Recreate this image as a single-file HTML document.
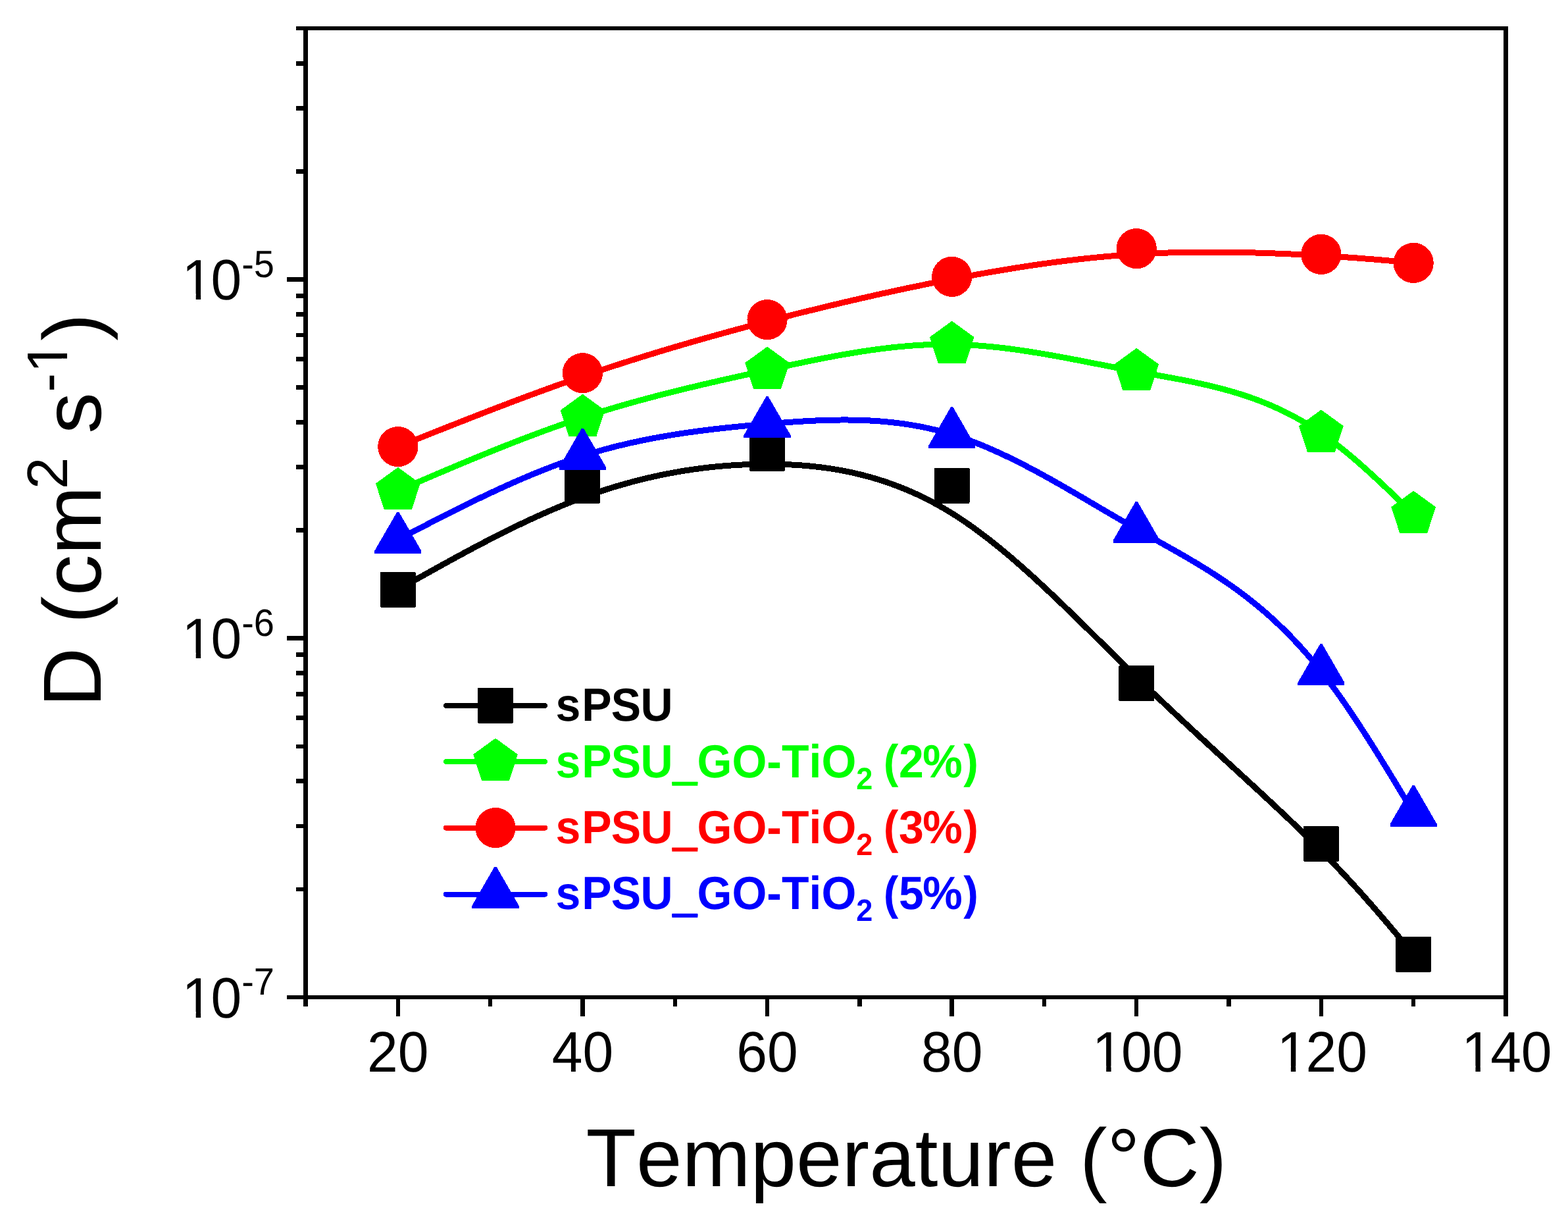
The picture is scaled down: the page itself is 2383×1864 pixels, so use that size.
<!DOCTYPE html>
<html lang="en"><head><meta charset="utf-8"><title>D vs Temperature</title>
<style>html,body{margin:0;padding:0;background:#fff}svg{display:block}text{font-family:'Liberation Sans', Arial, Helvetica, sans-serif;font-kerning:none;font-variant-ligatures:none;text-rendering:geometricPrecision;}</style>
</head><body>
<svg width="2383" height="1864" viewBox="0 0 2383 1864" role="img" aria-label="Diffusion coefficient D versus temperature">
<rect x="0" y="0" width="2383" height="1864" fill="#fff"/>
<g fill="none" stroke-width="9" stroke-linecap="round" stroke-linejoin="round" shape-rendering="crispEdges">
<path d="M604.81 895.8 L611.82 891.85 L618.84 887.9 L625.85 883.96 L632.87 880.02 L639.88 876.09 L646.9 872.16 L653.92 868.25 L660.93 864.35 L667.95 860.46 L674.96 856.58 L681.98 852.73 L688.99 848.89 L696.01 845.07 L703.02 841.28 L710.04 837.51 L717.05 833.76 L724.07 830.04 L731.08 826.35 L738.1 822.7 L745.12 819.07 L752.13 815.48 L759.15 811.92 L766.16 808.4 L773.18 804.92 L780.19 801.48 L787.21 798.08 L794.22 794.73 L801.24 791.43 L808.25 788.17 L815.27 784.96 L822.28 781.8 L829.3 778.69 L836.32 775.64 L843.33 772.65 L850.35 769.71 L857.36 766.83 L864.38 764.01 L871.39 761.26 L878.41 758.57 L885.42 755.95 L892.44 753.4 L899.45 750.91 L906.47 748.49 L913.48 746.14 L920.5 743.85 L927.52 741.64 L934.53 739.49 L941.55 737.4 L948.56 735.39 L955.58 733.44 L962.59 731.55 L969.61 729.74 L976.62 727.99 L983.64 726.3 L990.65 724.68 L997.67 723.13 L1004.68 721.64 L1011.7 720.22 L1018.72 718.86 L1025.73 717.57 L1032.75 716.34 L1039.76 715.17 L1046.78 714.08 L1053.79 713.04 L1060.81 712.07 L1067.82 711.16 L1074.84 710.32 L1081.85 709.54 L1088.87 708.82 L1095.88 708.17 L1102.9 707.58 L1109.92 707.05 L1116.93 706.59 L1123.95 706.19 L1130.96 705.85 L1137.98 705.57 L1144.99 705.36 L1152.01 705.2 L1159.02 705.11 L1166.04 705.08 L1173.05 705.12 L1180.07 705.21 L1187.08 705.37 L1194.1 705.61 L1201.12 705.91 L1208.13 706.28 L1215.15 706.73 L1222.16 707.26 L1229.18 707.87 L1236.19 708.57 L1243.21 709.34 L1250.22 710.21 L1257.24 711.16 L1264.25 712.21 L1271.27 713.36 L1278.28 714.6 L1285.3 715.93 L1292.32 717.38 L1299.33 718.92 L1306.35 720.58 L1313.36 722.34 L1320.38 724.21 L1327.39 726.2 L1334.41 728.3 L1341.42 730.52 L1348.44 732.87 L1355.45 735.33 L1362.47 737.93 L1369.48 740.65 L1376.5 743.5 L1383.52 746.48 L1390.53 749.6 L1397.55 752.86 L1404.56 756.26 L1411.58 759.8 L1418.59 763.48 L1425.61 767.31 L1432.62 771.29 L1439.64 775.43 L1446.65 779.72 L1453.67 784.16 L1460.68 788.76 L1467.7 793.5 L1474.72 798.38 L1481.73 803.41 L1488.75 808.56 L1495.76 813.85 L1502.78 819.26 L1509.79 824.78 L1516.81 830.42 L1523.82 836.17 L1530.84 842.02 L1537.85 847.97 L1544.87 854.02 L1551.88 860.15 L1558.9 866.37 L1565.92 872.67 L1572.93 879.05 L1579.95 885.49 L1586.96 892 L1593.98 898.58 L1600.99 905.2 L1608.01 911.88 L1615.02 918.61 L1622.04 925.38 L1629.05 932.18 L1636.07 939.02 L1643.08 945.88 L1650.1 952.77 L1657.12 959.67 L1664.13 966.59 L1671.15 973.51 L1678.16 980.44 L1685.18 987.36 L1692.19 994.28 L1699.21 1001.19 L1706.22 1008.08 L1713.24 1014.96 L1720.25 1021.8 L1727.27 1028.62 L1734.28 1035.4 L1741.3 1042.14 L1748.31 1048.85 L1755.31 1055.53 L1762.3 1062.16 L1769.28 1068.76 L1776.25 1075.33 L1783.21 1081.85 L1790.14 1088.34 L1797.06 1094.79 L1803.95 1101.21 L1810.82 1107.58 L1817.67 1113.92 L1824.48 1120.21 L1831.27 1126.47 L1838.02 1132.69 L1844.74 1138.86 L1851.42 1145 L1858.06 1151.1 L1864.65 1157.15 L1871.21 1163.16 L1877.72 1169.14 L1884.18 1175.07 L1890.59 1180.95 L1896.94 1186.8 L1903.25 1192.6 L1909.49 1198.36 L1915.68 1204.08 L1921.8 1209.75 L1927.87 1215.38 L1933.86 1220.97 L1939.79 1226.51 L1945.65 1232 L1951.43 1237.45 L1957.14 1242.85 L1962.78 1248.21 L1968.33 1253.53 L1973.8 1258.79 L1979.19 1264.01 L1984.5 1269.18 L1989.72 1274.31 L1994.85 1279.39 L1999.9 1284.42 L2004.87 1289.41 L2009.76 1294.36 L2014.57 1299.27 L2019.31 1304.13 L2023.97 1308.96 L2028.57 1313.75 L2033.1 1318.5 L2037.56 1323.22 L2041.96 1327.9 L2046.29 1332.55 L2050.57 1337.17 L2054.79 1341.76 L2058.96 1346.31 L2063.07 1350.84 L2067.13 1355.35 L2071.15 1359.82 L2075.12 1364.27 L2079.04 1368.7 L2082.92 1373.11 L2086.77 1377.49 L2090.57 1381.85 L2094.34 1386.2 L2098.08 1390.52 L2101.79 1394.83 L2105.47 1399.13 L2109.12 1403.41 L2112.75 1407.68 L2116.36 1411.93 L2119.94 1416.18 L2123.51 1420.41 L2127.07 1424.64 L2130.61 1428.86 L2134.14 1433.08 L2137.66 1437.29 L2141.17 1441.49 L2144.68 1445.7 L2148.19 1449.9" stroke="#000"/>
<g stroke="none"><rect x="577.81" y="868.8" width="54" height="54" rx="2" fill="#000"/><rect x="858.42" y="710.8" width="54" height="54" rx="2" fill="#000"/><rect x="1139.04" y="661.7" width="54" height="54" rx="2" fill="#000"/><rect x="1419.65" y="710.9" width="54" height="54" rx="2" fill="#000"/><rect x="1700.27" y="1011" width="54" height="54" rx="2" fill="#000"/><rect x="1980.88" y="1254.8" width="54" height="54" rx="2" fill="#000"/><rect x="2121.19" y="1422.9" width="54" height="54" rx="2" fill="#000"/></g>
<path d="M604.81 745.5 L611.82 742.48 L618.84 739.46 L625.85 736.44 L632.87 733.43 L639.88 730.41 L646.9 727.41 L653.92 724.41 L660.93 721.41 L667.95 718.42 L674.96 715.44 L681.98 712.47 L688.99 709.51 L696.01 706.56 L703.02 703.62 L710.04 700.69 L717.05 697.78 L724.07 694.88 L731.08 692 L738.1 689.14 L745.12 686.29 L752.13 683.46 L759.15 680.64 L766.16 677.85 L773.18 675.08 L780.19 672.33 L787.21 669.6 L794.22 666.9 L801.24 664.22 L808.25 661.57 L815.27 658.94 L822.28 656.34 L829.3 653.76 L836.32 651.22 L843.33 648.71 L850.35 646.22 L857.36 643.77 L864.38 641.35 L871.39 638.97 L878.41 636.62 L885.42 634.3 L892.44 632.02 L899.45 629.77 L906.47 627.56 L913.48 625.39 L920.5 623.24 L927.52 621.13 L934.53 619.05 L941.55 617 L948.56 614.98 L955.58 612.98 L962.59 611.02 L969.61 609.08 L976.62 607.17 L983.64 605.28 L990.65 603.41 L997.67 601.57 L1004.68 599.76 L1011.7 597.96 L1018.72 596.18 L1025.73 594.43 L1032.75 592.69 L1039.76 590.97 L1046.78 589.27 L1053.79 587.59 L1060.81 585.92 L1067.82 584.27 L1074.84 582.63 L1081.85 581 L1088.87 579.39 L1095.88 577.78 L1102.9 576.19 L1109.92 574.61 L1116.93 573.04 L1123.95 571.47 L1130.96 569.91 L1137.98 568.36 L1144.99 566.81 L1152.01 565.27 L1159.02 563.74 L1166.04 562.2 L1173.05 560.67 L1180.07 559.14 L1187.08 557.62 L1194.1 556.1 L1201.12 554.6 L1208.13 553.1 L1215.15 551.62 L1222.16 550.16 L1229.18 548.72 L1236.19 547.29 L1243.21 545.88 L1250.22 544.5 L1257.24 543.15 L1264.25 541.82 L1271.27 540.52 L1278.28 539.25 L1285.3 538.01 L1292.32 536.81 L1299.33 535.65 L1306.35 534.52 L1313.36 533.44 L1320.38 532.4 L1327.39 531.4 L1334.41 530.46 L1341.42 529.55 L1348.44 528.7 L1355.45 527.91 L1362.47 527.16 L1369.48 526.48 L1376.5 525.85 L1383.52 525.28 L1390.53 524.77 L1397.55 524.33 L1404.56 523.96 L1411.58 523.65 L1418.59 523.41 L1425.61 523.25 L1432.62 523.15 L1439.64 523.14 L1446.65 523.2 L1453.67 523.34 L1460.68 523.56 L1467.7 523.85 L1474.72 524.22 L1481.73 524.65 L1488.75 525.15 L1495.76 525.72 L1502.78 526.35 L1509.79 527.03 L1516.81 527.78 L1523.82 528.58 L1530.84 529.43 L1537.85 530.34 L1544.87 531.28 L1551.88 532.28 L1558.9 533.32 L1565.92 534.39 L1572.93 535.51 L1579.95 536.65 L1586.96 537.84 L1593.98 539.05 L1600.99 540.28 L1608.01 541.55 L1615.02 542.83 L1622.04 544.14 L1629.05 545.46 L1636.07 546.8 L1643.08 548.15 L1650.1 549.51 L1657.12 550.87 L1664.13 552.24 L1671.15 553.62 L1678.16 554.99 L1685.18 556.36 L1692.19 557.73 L1699.21 559.09 L1706.22 560.44 L1713.24 561.77 L1720.25 563.1 L1727.27 564.4 L1734.28 565.69 L1741.3 566.96 L1748.32 568.22 L1755.33 569.47 L1762.35 570.73 L1769.36 572 L1776.38 573.28 L1783.39 574.58 L1790.41 575.9 L1797.42 577.25 L1804.44 578.63 L1811.45 580.05 L1818.47 581.52 L1825.48 583.04 L1832.5 584.62 L1839.52 586.25 L1846.53 587.96 L1853.55 589.73 L1860.56 591.59 L1867.58 593.52 L1874.59 595.55 L1881.61 597.67 L1888.62 599.89 L1895.64 602.21 L1902.65 604.65 L1909.67 607.2 L1916.68 609.87 L1923.7 612.66 L1930.72 615.6 L1937.73 618.66 L1944.75 621.87 L1951.76 625.23 L1958.78 628.75 L1965.79 632.42 L1972.81 636.25 L1979.82 640.26 L1986.84 644.44 L1993.85 648.81 L2000.87 653.36 L2007.88 658.1 L2011.39 660.54 L2014.9 663.04 L2018.41 665.58 L2021.92 668.16 L2025.42 670.79 L2028.93 673.46 L2032.44 676.18 L2035.95 678.93 L2039.45 681.73 L2042.96 684.56 L2046.47 687.43 L2049.98 690.33 L2053.48 693.27 L2056.99 696.25 L2060.5 699.25 L2064.01 702.29 L2067.52 705.35 L2071.02 708.45 L2074.53 711.57 L2078.04 714.72 L2081.55 717.89 L2085.05 721.08 L2088.56 724.3 L2092.07 727.54 L2095.58 730.8 L2099.08 734.08 L2102.59 737.37 L2106.1 740.68 L2109.61 744 L2113.12 747.34 L2116.62 750.69 L2120.13 754.05 L2123.64 757.43 L2127.15 760.81 L2130.65 764.19 L2134.16 767.59 L2137.67 770.99 L2141.18 774.39 L2144.68 777.79 L2148.19 781.2" stroke="#0f0"/>
<g stroke="none"><polygon points="604.81,709.9 638.67,734.5 625.73,774.3 583.88,774.3 570.95,734.5" fill="#0f0"/><polygon points="885.42,598.7 919.28,623.3 906.35,663.1 864.5,663.1 851.57,623.3" fill="#0f0"/><polygon points="1166.04,526.6 1199.9,551.2 1186.96,591 1145.11,591 1132.18,551.2" fill="#0f0"/><polygon points="1446.65,487.6 1480.51,512.2 1467.58,552 1425.73,552 1412.8,512.2" fill="#0f0"/><polygon points="1727.27,528.8 1761.13,553.4 1748.19,593.2 1706.34,593.2 1693.41,553.4" fill="#0f0"/><polygon points="2007.88,622.5 2041.74,647.1 2028.81,686.9 1986.96,686.9 1974.03,647.1" fill="#0f0"/><polygon points="2148.19,745.6 2182.05,770.2 2169.12,810 2127.27,810 2114.33,770.2" fill="#0f0"/></g>
<path d="M604.81 678.6 L611.82 675.8 L618.84 673.01 L625.85 670.21 L632.87 667.42 L639.88 664.62 L646.9 661.83 L653.92 659.05 L660.93 656.26 L667.95 653.48 L674.96 650.71 L681.98 647.93 L688.99 645.17 L696.01 642.41 L703.02 639.66 L710.04 636.91 L717.05 634.17 L724.07 631.44 L731.08 628.71 L738.1 626 L745.12 623.29 L752.13 620.6 L759.15 617.91 L766.16 615.23 L773.18 612.57 L780.19 609.92 L787.21 607.27 L794.22 604.65 L801.24 602.03 L808.25 599.43 L815.27 596.84 L822.28 594.27 L829.3 591.71 L836.32 589.16 L843.33 586.64 L850.35 584.13 L857.36 581.63 L864.38 579.16 L871.39 576.7 L878.41 574.26 L885.42 571.83 L892.44 569.43 L899.45 567.05 L906.47 564.68 L913.48 562.33 L920.5 560.01 L927.52 557.7 L934.53 555.4 L941.55 553.13 L948.56 550.87 L955.58 548.63 L962.59 546.41 L969.61 544.2 L976.62 542.01 L983.64 539.84 L990.65 537.68 L997.67 535.54 L1004.68 533.41 L1011.7 531.3 L1018.72 529.2 L1025.73 527.12 L1032.75 525.06 L1039.76 523 L1046.78 520.97 L1053.79 518.94 L1060.81 516.93 L1067.82 514.93 L1074.84 512.95 L1081.85 510.98 L1088.87 509.02 L1095.88 507.07 L1102.9 505.14 L1109.92 503.22 L1116.93 501.31 L1123.95 499.41 L1130.96 497.52 L1137.98 495.65 L1144.99 493.78 L1152.01 491.93 L1159.02 490.08 L1166.04 488.25 L1173.05 486.43 L1180.07 484.61 L1187.08 482.81 L1194.1 481.02 L1201.12 479.23 L1208.13 477.46 L1215.15 475.7 L1222.16 473.95 L1229.18 472.21 L1236.19 470.48 L1243.21 468.76 L1250.22 467.05 L1257.24 465.35 L1264.25 463.67 L1271.27 461.99 L1278.28 460.33 L1285.3 458.68 L1292.32 457.04 L1299.33 455.41 L1306.35 453.8 L1313.36 452.19 L1320.38 450.6 L1327.39 449.02 L1334.41 447.46 L1341.42 445.9 L1348.44 444.36 L1355.45 442.83 L1362.47 441.31 L1369.48 439.81 L1376.5 438.32 L1383.52 436.84 L1390.53 435.37 L1397.55 433.92 L1404.56 432.48 L1411.58 431.06 L1418.59 429.64 L1425.61 428.25 L1432.62 426.86 L1439.64 425.49 L1446.65 424.13 L1453.67 422.79 L1460.68 421.46 L1467.7 420.15 L1474.72 418.85 L1481.73 417.57 L1488.75 416.3 L1495.76 415.05 L1502.78 413.82 L1509.79 412.61 L1516.81 411.41 L1523.82 410.23 L1530.84 409.07 L1537.85 407.93 L1544.87 406.81 L1551.88 405.71 L1558.9 404.64 L1565.92 403.58 L1572.93 402.54 L1579.95 401.53 L1586.96 400.54 L1593.98 399.57 L1600.99 398.63 L1608.01 397.71 L1615.02 396.82 L1622.04 395.95 L1629.05 395.1 L1636.07 394.28 L1643.08 393.49 L1650.1 392.72 L1657.12 391.99 L1664.13 391.28 L1671.15 390.59 L1678.16 389.94 L1685.18 389.31 L1692.19 388.72 L1699.21 388.15 L1706.22 387.62 L1713.24 387.11 L1720.25 386.64 L1727.27 386.2 L1734.28 385.79 L1741.3 385.41 L1748.31 385.07 L1755.31 384.75 L1762.3 384.46 L1769.28 384.2 L1776.25 383.97 L1783.21 383.77 L1790.14 383.59 L1797.06 383.44 L1803.95 383.31 L1810.82 383.21 L1817.67 383.13 L1824.48 383.07 L1831.27 383.04 L1838.02 383.02 L1844.74 383.03 L1851.42 383.05 L1858.06 383.1 L1864.65 383.16 L1871.21 383.24 L1877.72 383.34 L1884.18 383.45 L1890.59 383.58 L1896.94 383.72 L1903.25 383.88 L1909.49 384.05 L1915.68 384.23 L1921.8 384.43 L1927.87 384.63 L1933.86 384.84 L1939.79 385.07 L1945.65 385.3 L1951.43 385.54 L1957.14 385.79 L1962.78 386.04 L1968.33 386.3 L1973.8 386.56 L1979.19 386.83 L1984.5 387.1 L1989.72 387.37 L1994.85 387.65 L1999.9 387.93 L2004.87 388.21 L2009.76 388.49 L2014.57 388.78 L2019.31 389.07 L2023.97 389.36 L2028.57 389.65 L2033.1 389.95 L2037.56 390.24 L2041.96 390.54 L2046.29 390.84 L2050.57 391.14 L2054.79 391.45 L2058.96 391.75 L2063.07 392.06 L2067.13 392.37 L2071.15 392.68 L2075.12 392.99 L2079.04 393.3 L2082.92 393.61 L2086.77 393.93 L2090.57 394.24 L2094.34 394.56 L2098.08 394.88 L2101.79 395.2 L2105.47 395.52 L2109.12 395.84 L2112.75 396.16 L2116.36 396.48 L2119.94 396.81 L2123.51 397.13 L2127.07 397.45 L2130.61 397.78 L2134.14 398.1 L2137.66 398.43 L2141.17 398.75 L2144.68 399.08 L2148.19 399.4" stroke="#f00"/>
<g stroke="none"><circle cx="604.81" cy="678.6" r="30.6" fill="#f00"/><circle cx="885.42" cy="566.7" r="30.6" fill="#f00"/><circle cx="1166.04" cy="485.6" r="30.6" fill="#f00"/><circle cx="1446.65" cy="420.4" r="30.6" fill="#f00"/><circle cx="1727.27" cy="377.6" r="30.6" fill="#f00"/><circle cx="2007.88" cy="386.4" r="30.6" fill="#f00"/><circle cx="2148.19" cy="399.4" r="30.6" fill="#f00"/></g>
<path d="M604.81 819.7 L611.82 816.05 L618.84 812.4 L625.85 808.76 L632.87 805.12 L639.88 801.49 L646.9 797.87 L653.92 794.26 L660.93 790.66 L667.95 787.08 L674.96 783.51 L681.98 779.96 L688.99 776.42 L696.01 772.91 L703.02 769.43 L710.04 765.96 L717.05 762.53 L724.07 759.12 L731.08 755.74 L738.1 752.39 L745.12 749.08 L752.13 745.8 L759.15 742.56 L766.16 739.36 L773.18 736.2 L780.19 733.08 L787.21 730.01 L794.22 726.98 L801.24 724 L808.25 721.07 L815.27 718.19 L822.28 715.36 L829.3 712.59 L836.32 709.88 L843.33 707.22 L850.35 704.62 L857.36 702.09 L864.38 699.61 L871.39 697.21 L878.41 694.87 L885.42 692.6 L892.44 690.4 L899.45 688.27 L906.47 686.21 L913.48 684.21 L920.5 682.28 L927.52 680.41 L934.53 678.6 L941.55 676.86 L948.56 675.17 L955.58 673.54 L962.59 671.97 L969.61 670.45 L976.62 668.98 L983.64 667.56 L990.65 666.2 L997.67 664.88 L1004.68 663.61 L1011.7 662.39 L1018.72 661.21 L1025.73 660.07 L1032.75 658.97 L1039.76 657.92 L1046.78 656.9 L1053.79 655.92 L1060.81 654.97 L1067.82 654.06 L1074.84 653.18 L1081.85 652.33 L1088.87 651.51 L1095.88 650.72 L1102.9 649.95 L1109.92 649.21 L1116.93 648.49 L1123.95 647.8 L1130.96 647.12 L1137.98 646.46 L1144.99 645.83 L1152.01 645.2 L1159.02 644.6 L1166.04 644 L1173.05 643.42 L1180.07 642.85 L1187.08 642.3 L1194.1 641.77 L1201.12 641.26 L1208.13 640.78 L1215.15 640.32 L1222.16 639.9 L1229.18 639.51 L1236.19 639.16 L1243.21 638.85 L1250.22 638.58 L1257.24 638.36 L1264.25 638.19 L1271.27 638.07 L1278.28 638 L1285.3 637.99 L1292.32 638.03 L1299.33 638.15 L1306.35 638.32 L1313.36 638.57 L1320.38 638.88 L1327.39 639.28 L1334.41 639.74 L1341.42 640.29 L1348.44 640.92 L1355.45 641.64 L1362.47 642.44 L1369.48 643.33 L1376.5 644.32 L1383.52 645.41 L1390.53 646.59 L1397.55 647.88 L1404.56 649.27 L1411.58 650.77 L1418.59 652.39 L1425.61 654.11 L1432.62 655.95 L1439.64 657.92 L1446.65 660 L1453.67 662.21 L1460.68 664.54 L1467.7 666.98 L1474.72 669.54 L1481.73 672.21 L1488.75 674.99 L1495.76 677.86 L1502.78 680.84 L1509.79 683.91 L1516.81 687.06 L1523.82 690.31 L1530.84 693.63 L1537.85 697.03 L1544.87 700.51 L1551.88 704.05 L1558.9 707.66 L1565.92 711.34 L1572.93 715.07 L1579.95 718.85 L1586.96 722.69 L1593.98 726.57 L1600.99 730.49 L1608.01 734.45 L1615.02 738.45 L1622.04 742.47 L1629.05 746.53 L1636.07 750.6 L1643.08 754.69 L1650.1 758.8 L1657.12 762.92 L1664.13 767.04 L1671.15 771.17 L1678.16 775.29 L1685.18 779.41 L1692.19 783.52 L1699.21 787.62 L1706.22 791.7 L1713.24 795.76 L1720.25 799.8 L1727.27 803.8 L1734.28 807.77 L1741.3 811.72 L1748.32 815.65 L1755.33 819.57 L1762.35 823.49 L1769.36 827.42 L1776.38 831.36 L1783.39 835.32 L1790.41 839.31 L1797.42 843.33 L1804.44 847.4 L1811.45 851.53 L1818.47 855.71 L1825.48 859.96 L1832.5 864.29 L1839.52 868.7 L1846.53 873.21 L1853.55 877.81 L1860.56 882.52 L1867.58 887.34 L1874.59 892.29 L1881.61 897.36 L1888.62 902.58 L1895.64 907.94 L1902.65 913.45 L1909.67 919.13 L1916.68 924.97 L1923.7 931 L1930.72 937.2 L1937.73 943.6 L1944.75 950.2 L1951.76 957.01 L1958.78 964.03 L1965.79 971.28 L1972.81 978.76 L1979.82 986.48 L1986.84 994.44 L1993.85 1002.66 L2000.87 1011.15 L2007.88 1019.9 L2011.39 1024.38 L2014.9 1028.93 L2018.41 1033.54 L2021.92 1038.22 L2025.42 1042.96 L2028.93 1047.76 L2032.44 1052.62 L2035.95 1057.54 L2039.45 1062.51 L2042.96 1067.54 L2046.47 1072.62 L2049.98 1077.75 L2053.48 1082.93 L2056.99 1088.15 L2060.5 1093.43 L2064.01 1098.74 L2067.52 1104.1 L2071.02 1109.49 L2074.53 1114.93 L2078.04 1120.4 L2081.55 1125.9 L2085.05 1131.44 L2088.56 1137.01 L2092.07 1142.61 L2095.58 1148.24 L2099.08 1153.89 L2102.59 1159.57 L2106.1 1165.27 L2109.61 1170.99 L2113.12 1176.73 L2116.62 1182.49 L2120.13 1188.26 L2123.64 1194.05 L2127.15 1199.85 L2130.65 1205.66 L2134.16 1211.47 L2137.67 1217.3 L2141.18 1223.13 L2144.68 1228.96 L2148.19 1234.8" stroke="#00f"/>
<g stroke="none"><polygon points="603.31,777.8 606.31,777.8 640.41,836.86 640.41,841.1 569.21,841.1 569.21,836.86" fill="#00f"/><polygon points="883.92,650.7 886.92,650.7 921.02,709.76 921.02,714 849.82,714 849.82,709.76" fill="#00f"/><polygon points="1164.54,602.1 1167.54,602.1 1201.64,661.16 1201.64,665.4 1130.44,665.4 1130.44,661.16" fill="#00f"/><polygon points="1445.15,618.1 1448.15,618.1 1482.25,677.16 1482.25,681.4 1411.05,681.4 1411.05,677.16" fill="#00f"/><polygon points="1725.77,761.9 1728.77,761.9 1762.87,820.96 1762.87,825.2 1691.67,825.2 1691.67,820.96" fill="#00f"/><polygon points="2006.38,978 2009.39,978 2043.48,1037.06 2043.48,1041.3 1972.28,1041.3 1972.28,1037.06" fill="#00f"/><polygon points="2146.69,1192.9 2149.69,1192.9 2183.79,1251.96 2183.79,1256.2 2112.59,1256.2 2112.59,1251.96" fill="#00f"/></g>
</g>
<g fill="#000" shape-rendering="crispEdges">
<rect x="450" y="40" width="1842" height="6"/>
<rect x="461" y="40" width="7" height="1489"/>
<rect x="2285" y="40" width="7" height="1504"/>
<rect x="436" y="1512" width="1856" height="6"/>
<rect x="450" y="1347.56" width="12" height="6.6"/>
<rect x="450" y="1251.55" width="12" height="6.6"/>
<rect x="450" y="1183.43" width="12" height="6.6"/>
<rect x="450" y="1130.59" width="12" height="6.6"/>
<rect x="450" y="1087.41" width="12" height="6.6"/>
<rect x="450" y="1050.91" width="12" height="6.6"/>
<rect x="450" y="1019.29" width="12" height="6.6"/>
<rect x="450" y="991.4" width="12" height="6.6"/>
<rect x="436" y="966.45" width="26" height="6.6"/>
<rect x="450" y="802.31" width="12" height="6.6"/>
<rect x="450" y="706.3" width="12" height="6.6"/>
<rect x="450" y="638.18" width="12" height="6.6"/>
<rect x="450" y="585.34" width="12" height="6.6"/>
<rect x="450" y="542.16" width="12" height="6.6"/>
<rect x="450" y="505.66" width="12" height="6.6"/>
<rect x="450" y="474.04" width="12" height="6.6"/>
<rect x="450" y="446.15" width="12" height="6.6"/>
<rect x="436" y="421.2" width="26" height="6.6"/>
<rect x="450" y="257.06" width="12" height="6.6"/>
<rect x="450" y="161.05" width="12" height="6.6"/>
<rect x="450" y="92.93" width="12" height="6.6"/>
<rect x="601.61" y="1515" width="6.4" height="29"/>
<rect x="741.92" y="1515" width="6.4" height="14"/>
<rect x="882.22" y="1515" width="6.4" height="29"/>
<rect x="1022.53" y="1515" width="6.4" height="14"/>
<rect x="1162.84" y="1515" width="6.4" height="29"/>
<rect x="1303.15" y="1515" width="6.4" height="14"/>
<rect x="1443.45" y="1515" width="6.4" height="29"/>
<rect x="1583.76" y="1515" width="6.4" height="14"/>
<rect x="1724.07" y="1515" width="6.4" height="29"/>
<rect x="1864.38" y="1515" width="6.4" height="14"/>
<rect x="2004.68" y="1515" width="6.4" height="29"/>
<rect x="2144.99" y="1515" width="6.4" height="14"/>
</g>
<g transform="translate(558.09 1627.7) scale(1 1.034)" font-size="84" fill="#000">
<text x="0" y="0">20</text>
</g>
<g transform="translate(838.71 1627.7) scale(1 1.034)" font-size="84" fill="#000">
<text x="0" y="0">40</text>
</g>
<g transform="translate(1119.32 1627.7) scale(1 1.034)" font-size="84" fill="#000">
<text x="0" y="0">60</text>
</g>
<g transform="translate(1399.94 1627.7) scale(1 1.034)" font-size="84" fill="#000">
<text x="0" y="0">80</text>
</g>
<g transform="translate(1657.19 1627.7) scale(1 1.034)" font-size="84" fill="#000">
<text x="0" y="0" dx="2.9 -2.9">100</text>
<rect x="7.8" y="-8.28" width="16.22" height="9.78" fill="#fff"/><rect x="31.45" y="-8.28" width="15.57" height="9.78" fill="#fff"/>
</g>
<g transform="translate(1937.81 1627.7) scale(1 1.034)" font-size="84" fill="#000">
<text x="0" y="0" dx="2.9 -2.9">120</text>
<rect x="7.8" y="-8.28" width="16.22" height="9.78" fill="#fff"/><rect x="31.45" y="-8.28" width="15.57" height="9.78" fill="#fff"/>
</g>
<g transform="translate(2218.42 1627.7) scale(1 1.034)" font-size="84" fill="#000">
<text x="0" y="0" dx="2.9 -2.9">140</text>
<rect x="7.8" y="-8.28" width="16.22" height="9.78" fill="#fff"/><rect x="31.45" y="-8.28" width="15.57" height="9.78" fill="#fff"/>
</g>
<g transform="translate(273.7 455) scale(1 1.034)" font-size="84" fill="#000">
<text x="0" y="0" dx="2.9 -2.9">10<tspan font-size="56" dy="-33.0">-5</tspan></text>
<rect x="7.8" y="-8.28" width="16.22" height="9.78" fill="#fff"/><rect x="31.45" y="-8.28" width="15.57" height="9.78" fill="#fff"/>
</g>
<g transform="translate(273.7 1000.25) scale(1 1.034)" font-size="84" fill="#000">
<text x="0" y="0" dx="2.9 -2.9">10<tspan font-size="56" dy="-33.0">-6</tspan></text>
<rect x="7.8" y="-8.28" width="16.22" height="9.78" fill="#fff"/><rect x="31.45" y="-8.28" width="15.57" height="9.78" fill="#fff"/>
</g>
<g transform="translate(273.7 1545.5) scale(1 1.034)" font-size="84" fill="#000">
<text x="0" y="0" dx="2.9 -2.9">10<tspan font-size="56" dy="-33.0">-7</tspan></text>
<rect x="7.8" y="-8.28" width="16.22" height="9.78" fill="#fff"/><rect x="31.45" y="-8.28" width="15.57" height="9.78" fill="#fff"/>
</g>
<text x="1377.5" y="1802" font-size="125" text-anchor="middle" fill="#000">Temperature (°C)</text>
<g transform="translate(153.4 1074) rotate(-90)" font-size="125" fill="#000">
<text x="0" y="0" dx="0 0 1.7 0.77 -0.3 -4.53 1.12 0 0.47 0.43 0.32">D (cm<tspan dy="-51" font-size="87">2</tspan><tspan dy="51"> s</tspan><tspan dy="-51" font-size="87">-1</tspan><tspan dy="51">)</tspan></text>
<g transform="translate(0 -51)"><rect x="512.63" y="-8.5" width="16.75" height="10" fill="#fff"/><rect x="537.07" y="-8.5" width="16.07" height="10" fill="#fff"/></g>
</g>
<g shape-rendering="crispEdges"><line x1="678" y1="1071.9" x2="828" y2="1071.9" stroke="#000" stroke-width="8" stroke-linecap="round"/>
<rect x="726" y="1044.9" width="54" height="54" rx="2" fill="#000"/></g>
<g transform="translate(844 1095.1) scale(1 1.04)" font-size="68" font-weight="bold" fill="#000">
<text x="0" y="0" dx="0.6 1.88 -0.96 -0.56">sPSU</text>
</g>
<g shape-rendering="crispEdges"><line x1="678" y1="1157.1" x2="828" y2="1157.1" stroke="#0f0" stroke-width="8" stroke-linecap="round"/>
<polygon points="753,1121.5 786.86,1146.1 773.93,1185.9 732.07,1185.9 719.14,1146.1" fill="#0f0"/></g>
<g transform="translate(844 1181.2) scale(1 1.04)" font-size="68" font-weight="bold" fill="#0f0">
<text x="0" y="0" dx="0.6 1.88 -0.96 -0.56 -0.61 -0.32 0 0 0 0 0 0 0 -2.56 0.56 -1.62 1.74" dy="0 0 0 0 1.2 -1.2">sPSU_GO-TiO<tspan font-size="45" dy="17.3">2</tspan><tspan dy="-17.3"> (2%)</tspan></text>
<rect x="177.3" y="6.2" width="39" height="5.8"/>
</g>
<g shape-rendering="crispEdges"><line x1="678" y1="1257.6" x2="828" y2="1257.6" stroke="#f00" stroke-width="8" stroke-linecap="round"/>
<circle cx="753" cy="1257.6" r="30.6" fill="#f00"/></g>
<g transform="translate(844 1281.1) scale(1 1.04)" font-size="68" font-weight="bold" fill="#f00">
<text x="0" y="0" dx="0.6 1.88 -0.96 -0.56 -0.61 -0.32 0 0 0 0 0 0 0 -2.56 0.56 -1.62 1.74" dy="0 0 0 0 1.2 -1.2">sPSU_GO-TiO<tspan font-size="45" dy="17.3">2</tspan><tspan dy="-17.3"> (3%)</tspan></text>
<rect x="177.3" y="6.2" width="39" height="5.8"/>
</g>
<g shape-rendering="crispEdges"><line x1="678" y1="1358.6" x2="828" y2="1358.6" stroke="#00f" stroke-width="8" stroke-linecap="round"/>
<polygon points="751.5,1316.7 754.5,1316.7 788.6,1375.76 788.6,1380 717.4,1380 717.4,1375.76" fill="#00f"/></g>
<g transform="translate(844 1381.4) scale(1 1.04)" font-size="68" font-weight="bold" fill="#00f">
<text x="0" y="0" dx="0.6 1.88 -0.96 -0.56 -0.61 -0.32 0 0 0 0 0 0 0 -2.56 0.56 -1.62 1.74" dy="0 0 0 0 1.2 -1.2">sPSU_GO-TiO<tspan font-size="45" dy="17.3">2</tspan><tspan dy="-17.3"> (5%)</tspan></text>
<rect x="177.3" y="6.2" width="39" height="5.8"/>
</g>
</svg></body></html>
